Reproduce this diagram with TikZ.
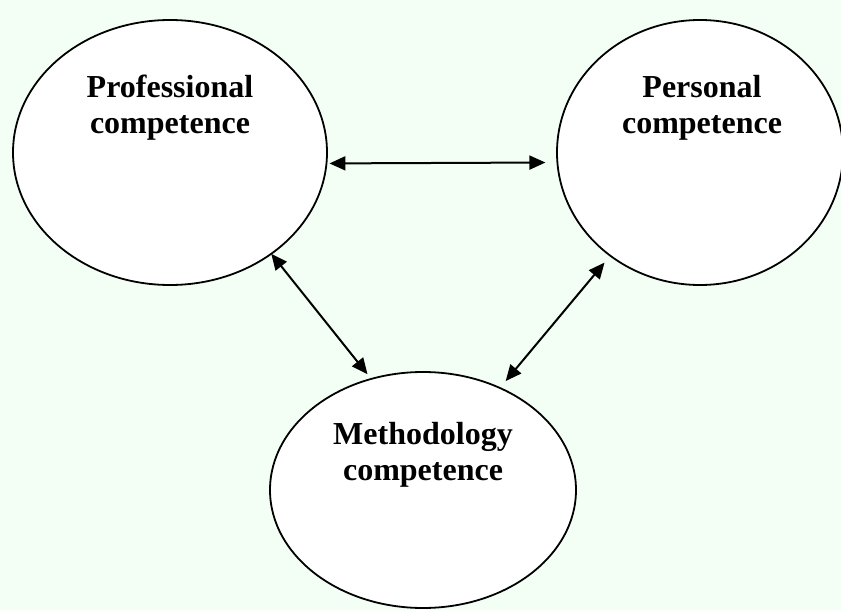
\documentclass[tikz,border=0pt]{standalone}
\usepackage{fontspec}
\setmainfont{Liberation Serif}
\usetikzlibrary{arrows.meta,positioning,shapes.geometric}
\definecolor{bgmint}{RGB}{243,255,245}
\begin{document}
\begin{tikzpicture}[x=1pt, y=-1pt, thick,
    comp/.style = {draw, ellipse, fill=white, line width=1.8pt, inner sep=0pt, outer sep=0pt},
    lbl/.style = {align=center, inner sep=0pt, font=\fontsize{32}{36}\selectfont\bfseries},
    link/.style = {{Triangle[length=16pt,width=14pt]}-{Triangle[length=16pt,width=14pt]}, line width=2pt}]
    \fill[bgmint] (0,0) rectangle (841,610);
    \useasboundingbox (0,0) rectangle (841,610);

    \node[comp, minimum width=314pt, minimum height=265pt] (prof) at (170,152.5) {};
    \node[comp, minimum width=286pt, minimum height=265pt] (pers) at (700,152.5) {};
    \node[comp, minimum width=306pt, minimum height=236pt] (meth) at (423,490) {};

    \node[lbl] (proftxt) at (170,107.5) {Professional\\competence};
    \node[lbl] (perstxt) at (702,107.5) {Personal\\competence};
    \node[lbl] (methtxt) at (423,455) {Methodology\\competence};

    \draw[link, shorten <=3pt, shorten >=12pt] (prof.-4) -- (pers.184);
    \draw[link, shorten >=6pt] (prof.-45) -- (meth.115);
    \draw[link, shorten <=9pt, shorten >=9pt] (pers.229) -- (meth.53);
\end{tikzpicture}
\end{document}
